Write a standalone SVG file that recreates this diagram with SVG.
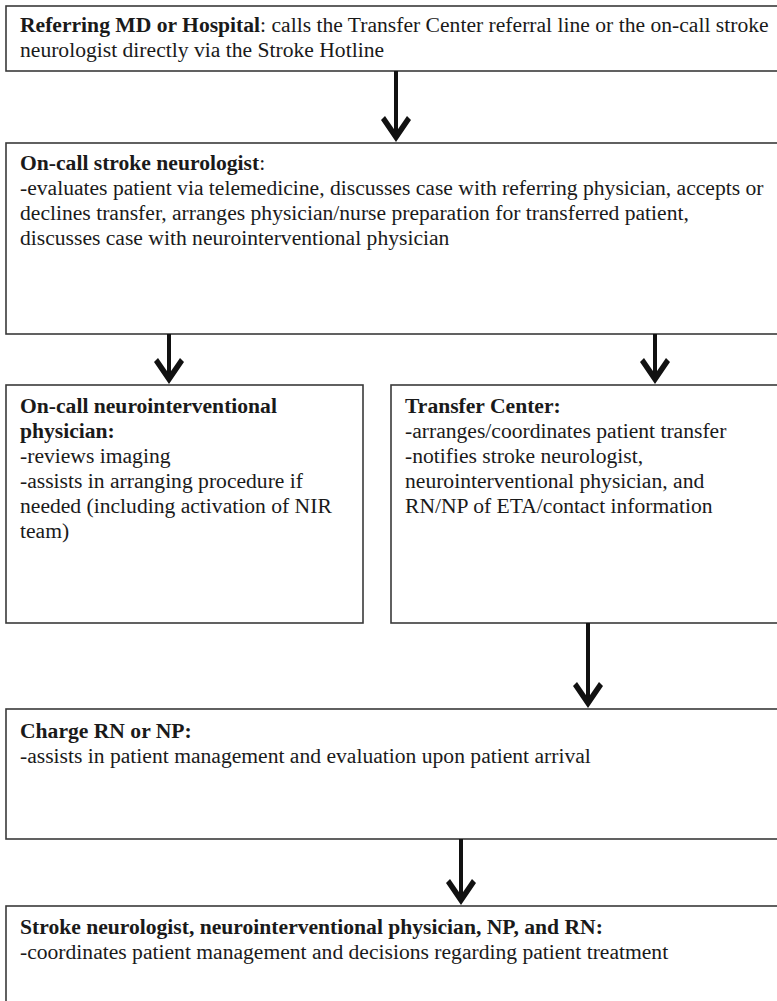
<svg xmlns="http://www.w3.org/2000/svg" xmlns:xlink="http://www.w3.org/1999/xlink" width="777" height="1001" viewBox="0 0 777 1001">
  <style>
    .box { fill: #ffffff; stroke: #3a3a3a; stroke-width: 1.6; }
    .txt { font-family: "Liberation Serif", "Times New Roman", serif; font-size: 21.6px; fill: #1a1a1a; }
    .b { font-weight: bold; }
    .shaft { stroke: #111111; stroke-width: 4; fill: none; }
    .head { fill: #111111; }
  </style>
  <defs>
    <!-- chevron arrowhead, tip at the origin pointing down -->
    <polygon id="chev" class="head" points="0,0 -15,-22 -11,-26 0,-10 11,-26 15,-22"/>
  </defs>
  <rect width="777" height="1001" fill="#ffffff"/>

  <g id="referring">
    <rect class="box" x="6" y="6" width="800" height="65"/>
    <text class="txt" x="20" y="32"><tspan class="b">Referring MD or Hospital</tspan>: calls the Transfer Center referral line or the on-call stroke</text>
    <text class="txt" x="20" y="57">neurologist directly via the Stroke Hotline</text>
  </g>

  <g id="stroke-neurologist">
    <rect class="box" x="6" y="143" width="800" height="191"/>
    <text class="txt" x="20" y="170"><tspan class="b">On-call stroke neurologist</tspan>:</text>
    <text class="txt" x="20" y="195">-evaluates patient via telemedicine, discusses case with referring physician, accepts or</text>
    <text class="txt" x="20" y="220">declines transfer, arranges physician/nurse preparation for transferred patient,</text>
    <text class="txt" x="20" y="245">discusses case with neurointerventional physician</text>
  </g>

  <g id="neurointerventional">
    <rect class="box" x="6" y="385" width="357" height="238"/>
    <text class="txt" x="20" y="413"><tspan class="b">On-call neurointerventional</tspan></text>
    <text class="txt" x="20" y="438"><tspan class="b">physician:</tspan></text>
    <text class="txt" x="20" y="463">-reviews imaging</text>
    <text class="txt" x="20" y="488">-assists in arranging procedure if</text>
    <text class="txt" x="20" y="513">needed (including activation of NIR</text>
    <text class="txt" x="20" y="538">team)</text>
  </g>

  <g id="transfer-center">
    <rect class="box" x="391" y="385" width="420" height="238"/>
    <text class="txt" x="405" y="413"><tspan class="b">Transfer Center:</tspan></text>
    <text class="txt" x="405" y="438">-arranges/coordinates patient transfer</text>
    <text class="txt" x="405" y="463">-notifies stroke neurologist,</text>
    <text class="txt" x="405" y="488">neurointerventional physician, and</text>
    <text class="txt" x="405" y="513">RN/NP of ETA/contact information</text>
  </g>

  <g id="charge-rn">
    <rect class="box" x="6" y="709" width="800" height="130"/>
    <text class="txt" x="20" y="738"><tspan class="b">Charge RN or NP:</tspan></text>
    <text class="txt" x="20" y="763">-assists in patient management and evaluation upon patient arrival</text>
  </g>

  <g id="care-team">
    <rect class="box" x="6" y="906" width="800" height="130"/>
    <text class="txt" x="20" y="934"><tspan class="b">Stroke neurologist, neurointerventional physician, NP, and RN:</tspan></text>
    <text class="txt" x="20" y="959">-coordinates patient management and decisions regarding patient treatment</text>
  </g>

  <g id="connectors">
    <line class="shaft" x1="396" y1="71" x2="396" y2="132"/>
    <use xlink:href="#chev" href="#chev" transform="translate(396,142)"/>

    <line class="shaft" x1="169" y1="334" x2="169" y2="374"/>
    <use xlink:href="#chev" href="#chev" transform="translate(169,384)"/>

    <line class="shaft" x1="655" y1="334" x2="655" y2="374"/>
    <use xlink:href="#chev" href="#chev" transform="translate(655,384)"/>

    <line class="shaft" x1="588" y1="623" x2="588" y2="698"/>
    <use xlink:href="#chev" href="#chev" transform="translate(588,708)"/>

    <line class="shaft" x1="461" y1="839" x2="461" y2="895"/>
    <use xlink:href="#chev" href="#chev" transform="translate(461,905)"/>
  </g>
</svg>
